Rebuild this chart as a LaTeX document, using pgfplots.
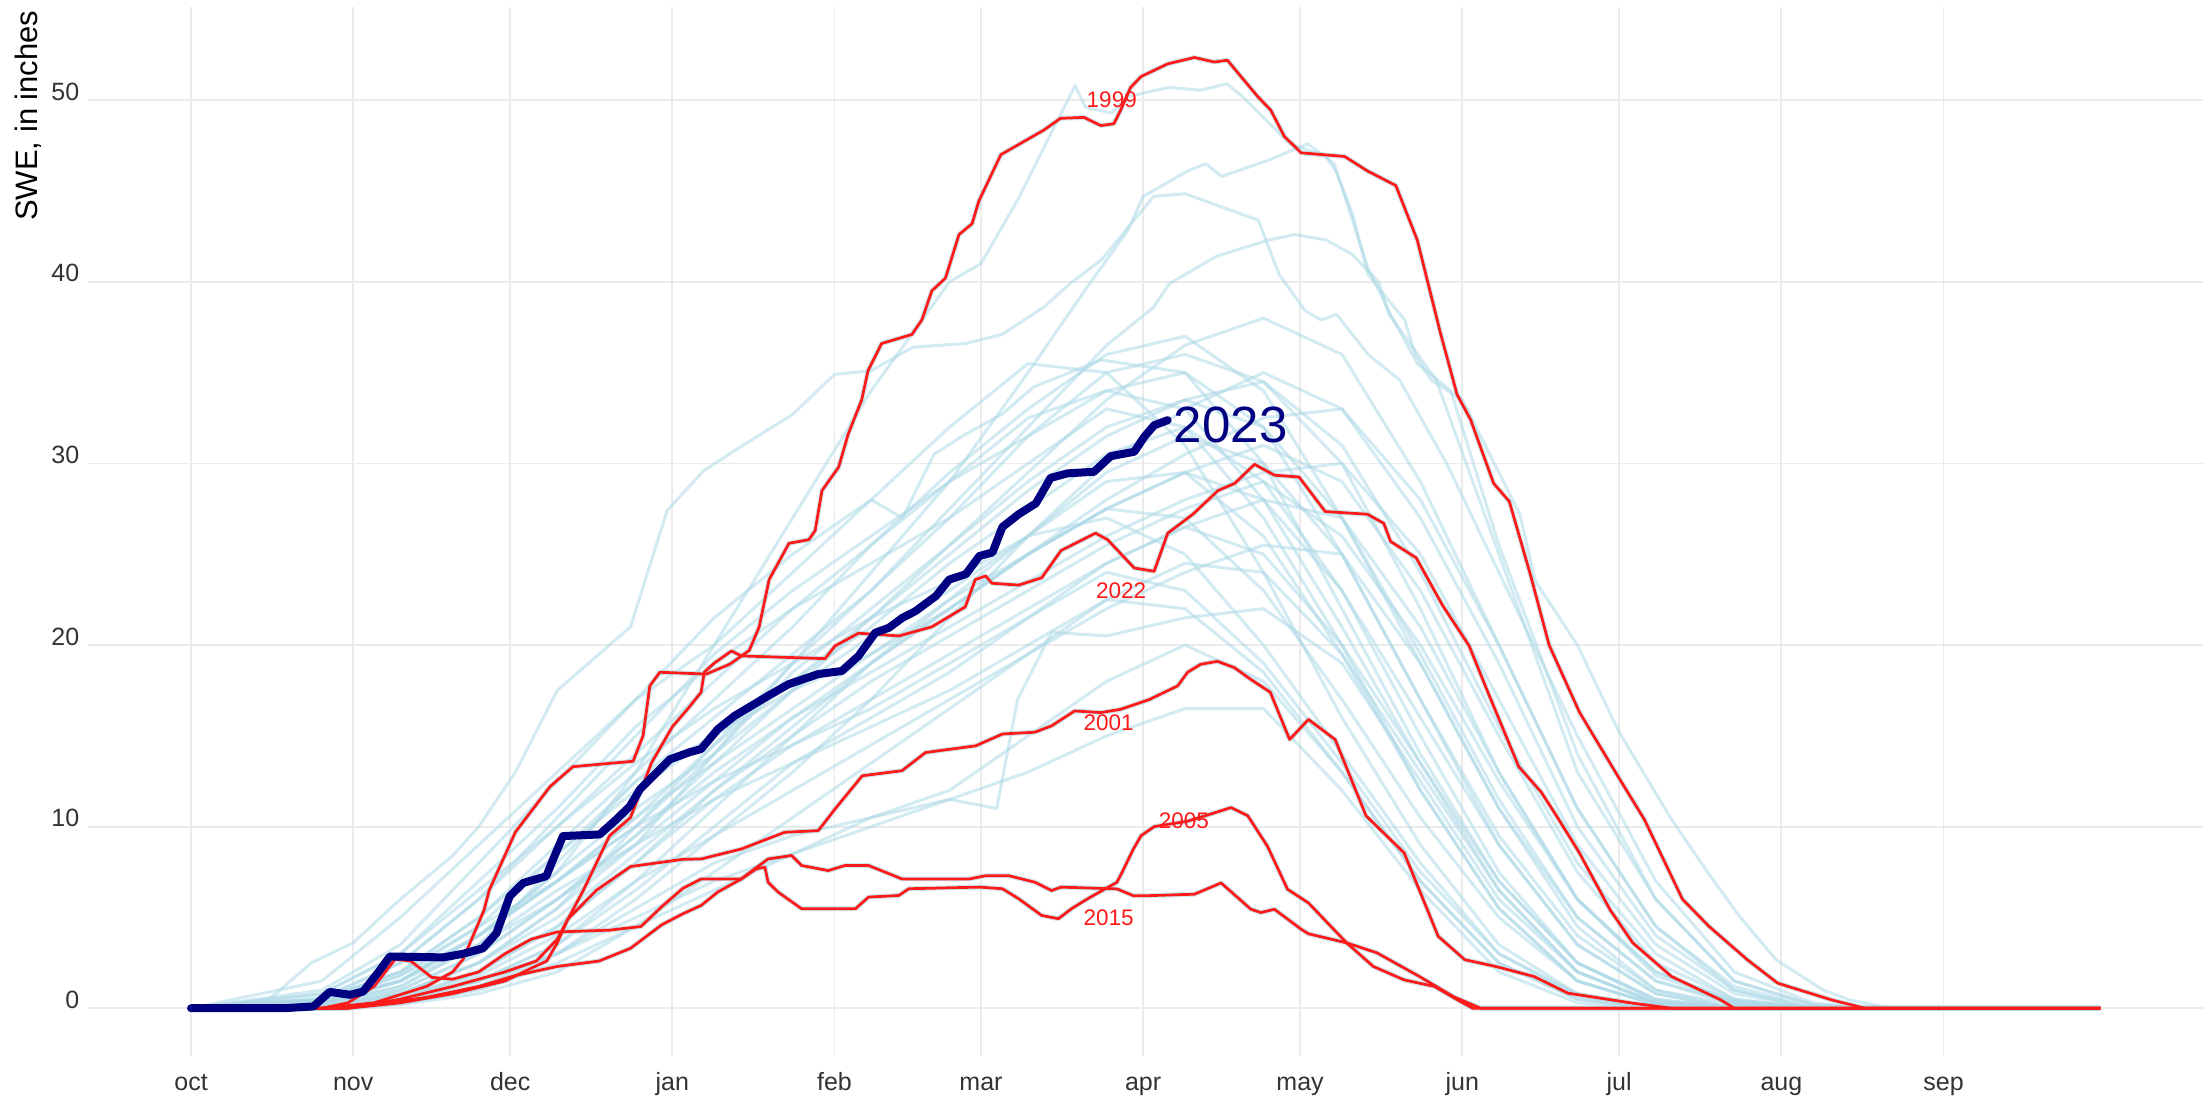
\documentclass[border=0pt]{standalone}
\usepackage{fontspec}
\setmainfont{Liberation Sans}
\usepackage{pgfplots}
\pgfplotsset{compat=1.18}
\usepackage{pgfplotstable}
\usetikzlibrary{calc}

\definecolor{gridc}{HTML}{EBEBEB}
\definecolor{lb}{HTML}{ADD8E6}
\definecolor{hl}{HTML}{FF1A1A}
\definecolor{nv}{HTML}{000080}
\definecolor{tickc}{HTML}{333333}

% highlighted years: day of water year (0 = 1 Oct), SWE in inches
\pgfplotstableread{
day swe
0 0
25 0
35 0.3
45 1.2
50 2.0
52 2.7
56 5.4
57 6.5
62 9.7
68.6 12.2
73 13.3
84.5 13.6
86.4 15
87.7 17.75
89.6 18.5
98.5 18.4
103 18.95
106.7 19.7
108.6 21
110.5 23.6
114.3 25.6
118.1 25.8
119.3 26.3
120.6 28.5
123.8 29.8
125.6 31.6
128.2 33.5
129.4 35.1
132 36.6
137.8 37.1
139.7 37.9
141.6 39.5
144.2 40.2
146.8 42.6
149.3 43.2
150.6 44.45
154.8 47
163 48.35
166.2 49
170.7 49.05
173.9 48.6
176.4 48.7
177.7 49.45
179.6 50.7
181.6 51.3
186.7 52
191.8 52.35
195.6 52.1
198.1 52.2
200.7 51.3
203.9 50.2
206.4 49.45
209 48
212.2 47.1
220.5 46.9
224.9 46.1
230.3 45.3
234.4 42.3
236.3 40.1
238.9 37.1
242 33.8
244.6 32.4
249 28.9
252 27.9
256 23.9
259.6 20
265.4 16.3
272.7 12.8
277.8 10.4
285.1 6
290.2 4.5
297.5 2.67
303.3 1.38
313.6 0.46
320 0
365 0
}\tabA

\pgfplotstableread{
day swe
0 0
30 0
40 0.3
50 0.8
60 1.5
65 2.2
68 2.6
70 3.6
72 4.9
77.5 6.5
84 7.8
94 8.2
97.5 8.22
105.2 8.77
113.5 9.69
119.9 9.78
123.1 10.97
128.3 12.8
135.9 13.08
140.4 14.08
150 14.45
155.1 15.1
161.3 15.2
164.5 15.55
168.9 16.37
173.9 16.28
177.7 16.46
183.2 17.0
188.6 17.75
190.5 18.5
193 18.94
196.2 19.1
199.4 18.76
202.6 18.1
206.3 17.4
210 14.8
213.6 15.9
218.7 14.8
224.6 10.6
231.9 8.55
238.4 3.96
243.5 2.67
249.4 2.3
256.7 1.75
263.2 0.83
275.6 0.28
283 0
365 0
}\tabB

\pgfplotstableread{
day swe
0 0
28 0
35 0.2
45 0.6
55 1.2
62 1.8
70 2.3
78 2.6
84 3.3
90 4.6
94 5.2
97.5 5.66
100.7 6.4
105.2 7.12
108 7.67
109.7 7.77
110.3 6.94
112.2 6.4
116.7 5.48
127 5.48
129.5 6.12
135.3 6.21
137.2 6.58
150.7 6.67
155.1 6.58
158.2 6.03
162.6 5.11
165.8 4.93
168.3 5.48
171.4 6.03
177 6.94
178 7.5
180.1 8.75
181.6 9.5
184.1 10.0
190.5 10.3
195 10.7
198.8 11.05
202 10.6
205.8 8.9
209.6 6.55
213.6 5.8
220.9 3.6
226 2.3
231.9 1.56
237.7 1.2
242.1 0.46
245 0
365 0
}\tabC

\pgfplotstableread{
day swe
0 0
25 0
30 0.3
35 1.2
39 2.7
42 2.6
46 1.7
50 1.6
55 2.0
60 3.0
65 3.8
70 4.2
80 4.3
86 4.5
90 5.6
94 6.6
97.5 7.12
105.2 7.12
107.7 7.67
110.3 8.22
114.8 8.41
116.7 7.86
121.8 7.58
125 7.86
129.5 7.86
135.9 7.12
148.8 7.12
151.9 7.3
156.3 7.3
161.3 6.94
164.5 6.48
166.3 6.67
177 6.57
180.1 6.2
183.2 6.2
191.8 6.28
196.9 6.9
202.6 5.45
204.5 5.27
207.1 5.45
212.2 4.35
213.6 4.1
220.9 3.6
226.7 3.05
234.8 1.75
241.3 0.64
246.5 0
365 0
}\tabD

\pgfplotstableread{
day swe
0 0
30 0
40 0.5
50 1.2
60 2.0
66 2.6
70 3.8
75 6.5
80 9.5
84 10.5
88 13.5
92 15.5
95 16.5
97.5 17.4
98.1 18.5
100 19
103.3 19.67
105.2 19.4
121.2 19.25
123.1 19.95
127.6 20.65
135.3 20.5
141.6 21
148 22.1
149.9 23.6
151.9 23.8
153.1 23.4
158.2 23.3
162.6 23.7
166.3 25.2
172.9 26.16
175.2 25.8
180.3 24.24
184.1 24.06
186.7 26.16
191.5 27.2
196.3 28.5
199.5 28.9
203.3 29.95
207.1 29.35
211.8 29.25
216.8 27.35
224.9 27.2
228 26.7
229.3 25.7
234.2 24.8
239.2 22.2
244.3 19.96
247.9 17.4
253.8 13.3
258.1 11.9
261 10.6
265.4 8.55
271.3 5.4
275.6 3.6
283 1.75
292.4 0.46
295 0
365 0
}\tabE

\pgfplotstableread{
day swe
0 0
17.6 0
23.4 0.1
26.5 0.9
30.4 0.74
32.9 0.92
36.1 2.1
38 2.85
48.2 2.8
52 3.0
55.8 3.3
58.4 4.14
60.9 6.16
63.5 6.9
67.9 7.27
69.2 8.19
71.1 9.48
78.1 9.57
81.3 10.4
83.9 11.13
85.8 12.05
91.5 13.7
95.3 14.1
97.5 14.27
100.7 15.37
103.9 16.1
110.3 17.2
114.2 17.84
119.9 18.4
124.4 18.57
127.6 19.4
130.8 20.68
133.4 20.95
136 21.5
138.5 21.87
142.4 22.7
144.9 23.6
148.1 23.9
150.7 24.9
153.2 25.1
155.1 26.5
158.2 27.2
161.5 27.8
164.3 29.2
167.5 29.45
172.6 29.54
175.8 30.4
180.3 30.64
182.2 31.46
184.1 32.1
186.7 32.38
}\tabF

\pgfplotsset{
  bg/.style={lb, opacity=0.55, line width=1.2pt, line join=round, no marks},
  hi/.style={hl, line width=1.1pt, line join=round, no marks},
  halo/.style={lb, opacity=0.6, line width=2.0pt, line join=round, no marks},
}

\begin{document}
\begin{tikzpicture}
\begin{axis}[
  width=846pt, height=419.6pt, scale only axis,
  xmin=-19.7, xmax=384.6, ymin=-2.63, ymax=55.13,
  axis line style={draw=none},
  major tick length=0pt,
  xtick={0,31,61,92,123,151,182,212,243,273,304,335},
  xticklabels={oct,nov,dec,jan,feb,mar,apr,may,jun,jul,aug,sep},
  ytick={0,10,20,30,40,50},
  grid=major,
  grid style={gridc, line width=0.7pt},
  tick label style={font=\fontsize{10}{12}\selectfont, text=tickc},
  xticklabel style={anchor=base, yshift=-13.6pt},
  yticklabel style={anchor=base east},
  /pgf/number format/assume math mode=true,
  clip=false,
]
% all other years
\addplot[bg] coordinates {(0,0)(15,0.5)(23,2.5)(31,3.6)(40,6)(50,8.4)(55,10)(62,13)(70,17.5)(76,19)(84,21)(91,27.4)(98,29.6)(105,30.9)(115,32.7)(123,34.9)(130,35.1)(138,36.4)(148,36.6)(155,37.1)(163,38.6)(168,39.9)(174,41.2)(184,44.7)(190,44.85)(202,43.6)(204,43.4)(208,40.4)(213,38.4)(216,37.9)(219,38.2)(225,36)(231,34.6)(240,30)(250,24)(265,15)(280,7)(295,2)(310,0.3)(320,0)(365,0)};
\addplot[bg] coordinates {(0,0)(25,0.3)(40,1.5)(55,4)(70,7.5)(85,13)(100,20)(115,27)(130,34)(145,40)(151,41)(158,44.5)(166,49.1)(169,50.8)(171,49.6)(176,49.3)(179,50.2)(187,50.7)(193,50.55)(198,50.9)(201,50.2)(210,47.6)(217,46.9)(219,46)(222,43.75)(225,40.4)(228,39.3)(232,37.9)(234,36)(237,34.6)(243,33.5)(254,27.2)(257,23.5)(265,20)(273,15.2)(283,10.4)(290,7.45)(296,5.06)(303,2.67)(312,1)(317,0.46)(325,0)(365,0)};
\addplot[bg] coordinates {(0,0)(25,0)(40,0.8)(55,2.5)(70,5.5)(85,9)(100,14)(115,19)(130,24)(145,29)(160,35)(172,40)(179,42.8)(182,44.7)(190.5,46.1)(194,46.5)(197,45.8)(206,46.7)(213.5,47.6)(218.5,46.5)(220.4,44.85)(224.9,40.8)(229.3,38.2)(234.4,35.5)(240.8,34)(250,25.5)(265,14)(280,6)(295,1.5)(310,0.2)(320,0)(365,0)};
\addplot[bg] coordinates {(0,0)(25,0.2)(40,1.5)(55,4)(70,7)(85,10)(100,14.5)(115,19)(130,23)(145,27.5)(160,32)(175,36.5)(184,38.6)(187,39.9)(196,41.4)(206,42.3)(211,42.6)(217,42.3)(222,41.5)(227,40)(229,38.2)(238,34.6)(250,25)(265,13)(280,6)(295,1.5)(310,0.2)(320,0)(365,0)};
\addplot[bg] coordinates {(0,0)(25,0.5)(40,2)(55,5)(70,9)(85,13)(100,17)(115,21)(130,25.5)(145,29.5)(160,33)(175,36)(190,37)(205,34)(220,27)(235,19)(250,11)(265,5)(280,1.5)(295,0.3)(310,0)(365,0)};
\addplot[bg] coordinates {(0,0)(25,0.2)(40,1.2)(55,3.5)(70,8)(85,12.5)(100,16)(115,19.5)(130,23)(145,27)(160,31.5)(175,35)(190,36)(205,34.5)(220,30)(235,22)(250,13)(265,6)(280,2)(295,0.4)(310,0)(365,0)};
\addplot[bg] coordinates {(0,0)(25,0)(40,0.8)(55,2.5)(70,5.5)(85,10)(100,14)(115,18.5)(130,22)(145,25.5)(160,29)(175,32)(190,33.5)(205,34.5)(220,31)(235,24)(250,15.5)(265,8)(280,3)(295,0.5)(310,0)(365,0)};
\addplot[bg] coordinates {(0,0)(25,0.8)(40,3)(55,7)(70,11)(85,15.5)(100,19)(115,22)(130,24.5)(145,27)(160,30)(175,33)(190,32)(205,27)(220,20)(235,12)(250,5.5)(265,1.5)(280,0.2)(295,0)(365,0)};
\addplot[bg] coordinates {(0,0)(25,0)(40,0.5)(55,1.5)(70,3.5)(85,7)(100,11)(115,15)(130,19)(145,22.5)(160,26)(175,29.5)(190,31.5)(205,30)(220,25)(235,17)(250,9)(265,3.5)(280,0.8)(295,0)(365,0)};
\addplot[bg] coordinates {(0,0)(25,0.4)(40,1.5)(55,4)(70,7.5)(85,11)(100,14)(115,17.5)(130,20.5)(145,23)(160,26)(175,29)(190,29.5)(205,26)(220,19.5)(235,12)(250,5.5)(265,1.5)(280,0.2)(295,0)(365,0)};
\addplot[bg] coordinates {(0,0)(25,0)(40,0.6)(55,2)(70,4.5)(85,8)(100,11.5)(115,14.5)(130,17)(145,19.5)(160,22)(175,24.5)(190,26.5)(205,28)(220,27)(235,21)(250,13)(265,6)(280,1.8)(295,0.3)(310,0)(365,0)};
\addplot[bg] coordinates {(0,0)(25,0.6)(40,2.5)(55,6)(70,10)(85,13.5)(100,16.5)(115,19)(130,21.5)(145,23.5)(160,26)(175,27)(190,25)(205,20)(220,14)(235,8)(250,3)(265,0.8)(280,0)(365,0)};
\addplot[bg] coordinates {(0,0)(25,0)(40,0.4)(55,1.5)(70,3)(85,6)(100,9.5)(115,13)(130,17)(145,21.5)(160,26)(175,30)(190,33)(205,35)(220,33)(235,27)(250,19)(265,10)(280,4)(295,1)(310,0)(365,0)};
\addplot[bg] coordinates {(0,0)(25,0.3)(40,1.8)(55,4.5)(70,8.5)(85,12.5)(100,15)(115,18)(130,21)(145,24.5)(160,27.5)(175,30.5)(190,32)(205,29)(220,23)(235,15)(250,7.5)(265,2.5)(280,0.5)(295,0)(365,0)};
\addplot[bg] coordinates {(0,0)(25,0)(40,0.5)(55,1.8)(70,4)(85,7)(100,9.5)(115,12)(130,14.5)(145,17)(160,19.5)(175,22.5)(190,24.5)(205,24)(220,19.5)(235,13)(250,6.5)(265,2)(280,0.3)(295,0)(365,0)};
\addplot[bg] coordinates {(0,0)(25,0.2)(40,1.2)(55,3.5)(70,6.5)(85,9)(100,11.5)(115,13.5)(130,15.5)(145,17.5)(160,20)(175,22.5)(190,22)(205,18.5)(220,13)(235,7)(250,2.5)(265,0.5)(280,0)(365,0)};
\addplot[bg] coordinates {(0,0)(25,1)(40,3.5)(55,8)(70,12.5)(85,17)(100,21.5)(115,25)(130,28)(136,27)(142,30.5)(148,31.6)(155,32.7)(161,34.2)(174,35.7)(190,35)(205,30)(220,22)(235,14)(250,7)(265,2.5)(280,0.5)(295,0)(365,0)};
\addplot[bg] coordinates {(0,0)(25,0.1)(40,0.8)(55,2.5)(70,5)(85,8.5)(100,12)(115,15)(130,18)(145,20.5)(160,23)(175,25.5)(190,27.5)(205,29)(220,26)(235,20)(250,12.5)(265,6)(280,2)(295,0.4)(310,0)(365,0)};
\addplot[bg] coordinates {(0,0)(25,0.5)(40,2)(55,4.5)(70,7)(85,10.5)(100,14.5)(115,18)(130,21.5)(145,25)(160,28.5)(175,31.5)(190,33.5)(205,32)(220,27)(235,19.5)(250,11.5)(265,5)(280,1.5)(295,0.2)(310,0)(365,0)};
\addplot[bg] coordinates {(0,0)(25,0)(40,0.3)(55,1)(70,2.5)(85,4.5)(100,6.5)(115,8.5)(130,10.5)(145,12)(160,15)(175,18)(190,20)(205,18)(220,13)(235,7)(250,2.5)(265,0.5)(280,0)(365,0)};
\addplot[bg] coordinates {(0,0)(25,0)(40,0.3)(55,1.2)(70,3)(85,5.5)(100,8)(115,9.5)(130,10.5)(145,11.5)(154,11)(158,17)(164.5,20.7)(175,20.5)(190,21.5)(205,22)(220,19)(235,12.5)(250,6)(265,2)(280,0.3)(295,0)(365,0)};
\addplot[bg] coordinates {(0,0)(25,0.2)(40,1)(55,3)(70,6)(85,9.5)(100,13)(115,16)(130,18.5)(145,21)(160,23.5)(175,26)(190,28)(205,29.5)(220,30)(235,25)(250,17)(265,9)(280,3.5)(295,0.8)(310,0)(365,0)};
\addplot[bg] coordinates {(0,0)(25,0.8)(40,3)(55,6.5)(70,10)(85,14)(100,18)(115,22)(130,25.5)(145,29)(160,32.5)(175,34)(190,33)(205,28)(220,21)(235,13.5)(250,6.5)(265,2)(280,0.3)(295,0)(365,0)};
\addplot[bg] coordinates {(0,0)(25,0)(40,0.5)(55,1.5)(70,3.5)(85,6.5)(100,10)(115,13.5)(130,16)(145,18.5)(160,21.5)(175,24.5)(190,26.5)(205,25)(220,20)(235,13.5)(250,7)(265,2.5)(280,0.4)(295,0)(365,0)};
\addplot[bg] coordinates {(0,0)(25,0.3)(40,1.5)(55,3.5)(70,6)(85,9)(100,12.5)(115,16)(130,19)(145,22)(160,25)(175,27.5)(190,29.5)(205,31)(220,29)(235,23)(250,15)(265,7.5)(280,2.5)(295,0.5)(310,0)(365,0)};
\addplot[bg] coordinates {(0,0)(25,0.5)(40,2)(55,5)(70,8.5)(85,12)(100,15)(115,17.5)(130,19.5)(145,22)(160,25)(175,27.5)(190,27)(205,23)(220,17)(235,10.5)(250,5)(265,1.5)(280,0.2)(295,0)(365,0)};
\addplot[bg] coordinates {(0,0)(25,0)(40,0.5)(55,1.5)(70,3)(85,5)(100,7)(115,8.5)(130,10)(145,11.5)(160,13)(175,15)(190,16.5)(205,16.5)(220,12)(235,6.5)(250,2)(265,0.3)(280,0)(365,0)};
\addplot[bg] coordinates {(0,0)(25,0)(40,1)(55,3)(70,6)(85,9.5)(100,13.5)(115,17.5)(130,21.5)(145,25.5)(160,29.5)(175,33.5)(190,36.5)(205,38)(220,36)(235,29)(250,20)(265,11)(280,4.5)(295,1.2)(310,0.1)(325,0)(365,0)};
\addplot[bg] coordinates {(0,0)(25,0.3)(40,1.5)(55,4)(70,7)(85,10)(100,12.5)(115,14.5)(130,16.5)(145,19)(160,21.5)(175,24)(190,23)(205,19)(220,13.5)(235,7.5)(250,3)(265,0.7)(280,0)(365,0)};
\addplot[bg] coordinates {(0,0)(25,0)(40,0.5)(55,2)(70,4.5)(85,8)(100,12)(115,15.5)(130,19)(145,22)(160,25)(175,28)(190,30.5)(205,32.5)(220,33)(235,28)(250,20)(265,11)(280,4.5)(295,1)(310,0)(365,0)};
\addplot[bg] coordinates {(0,0)(25,1.5)(40,5)(55,9)(70,13)(85,17)(100,20)(115,24)(130,28)(145,32)(160,35.5)(175,35)(190,31)(205,24)(220,16)(235,9)(250,3.5)(265,0.8)(280,0)(365,0)};
\addplot[bg] coordinates {(0,0)(25,0)(40,0.2)(55,0.8)(70,2)(85,4.5)(100,7.5)(115,10.5)(130,13.5)(145,16.5)(160,19.5)(175,22)(190,24)(205,25.5)(220,25)(235,19)(250,11)(265,4.5)(280,1)(295,0)(365,0)};
\addplot[bg] coordinates {(0,0)(25,0.4)(40,1.8)(55,4)(70,7)(85,10.5)(100,13.5)(115,16.5)(130,19.5)(145,22.5)(160,25)(175,27.5)(190,29.5)(205,28)(220,23)(235,16)(250,9)(265,3.5)(280,0.8)(295,0)(365,0)};
\addplot[bg] coordinates {(0,0)(25,0.5)(40,2.5)(55,6)(70,10.5)(85,15)(100,19.5)(115,23)(130,26)(145,29)(160,31.5)(175,34)(190,35)(205,32)(220,25)(235,17)(250,9.5)(265,4)(280,1)(295,0.2)(310,0)(365,0)};

% highlighted years, light halo then red
\addplot[halo] table[x=day, y=swe] {\tabA};
\addplot[halo] table[x=day, y=swe] {\tabB};
\addplot[halo] table[x=day, y=swe] {\tabC};
\addplot[halo] table[x=day, y=swe] {\tabD};
\addplot[halo] table[x=day, y=swe] {\tabE};
\addplot[hi] table[x=day, y=swe] {\tabA};
\addplot[hi] table[x=day, y=swe] {\tabB};
\addplot[hi] table[x=day, y=swe] {\tabC};
\addplot[hi] table[x=day, y=swe] {\tabD};
\addplot[hi] table[x=day, y=swe] {\tabE};
% current year
\addplot[nv, line width=3.2pt, line join=round, line cap=round, no marks] table[x=day, y=swe] {\tabF};

\node[text=hl, font=\fontsize{9}{10}\selectfont] at (axis cs:176,50.0) {1999};
\node[text=hl, font=\fontsize{9}{10}\selectfont] at (axis cs:177.8,23.0) {2022};
\node[text=hl, font=\fontsize{9}{10}\selectfont] at (axis cs:175.4,15.7) {2001};
\node[text=hl, font=\fontsize{9}{10}\selectfont] at (axis cs:189.8,10.3) {2005};
\node[text=hl, font=\fontsize{9}{10}\selectfont] at (axis cs:175.4,5.0) {2015};
\node[anchor=west, inner sep=0pt, text=nv, font=\fontsize{20.4}{24}\selectfont] at (axis cs:187.8,32.1) {2023};

\node[rotate=90, anchor=east, inner sep=0pt, font=\fontsize{12.4}{14}\selectfont]
  at ($(rel axis cs:0,1)+(-23.8pt,-1.2pt)$) {SWE, in inches};

\coordinate (pSW) at (rel axis cs:0,0);
\coordinate (pNE) at (rel axis cs:1,1);
\end{axis}
\pgfresetboundingbox
\path ($(pSW)+(-35.2pt,-18pt)$) rectangle ($(pNE)+(0,2.8pt)$);
\end{tikzpicture}
\end{document}
